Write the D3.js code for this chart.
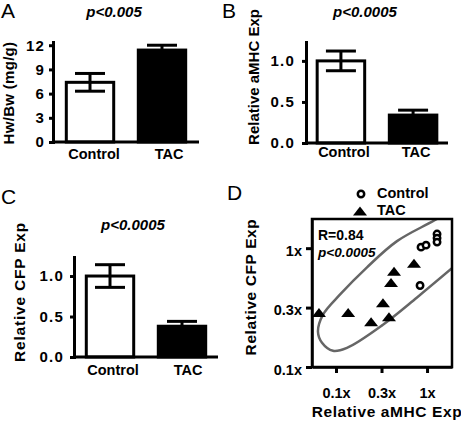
<!DOCTYPE html>
<html>
<head>
<meta charset="utf-8">
<script src="https://cdn.jsdelivr.net/npm/d3@7"></script>
<style>
  body { margin: 0; background: #fff; }
  svg { display: block; }
  text { font-family: "Liberation Sans", Arial, sans-serif; fill: #000; }
</style>
</head>
<body>
<svg id="chart" width="461" height="421"></svg>
<script>
// ---------- DATA ----------
const categories = ["Control", "TAC"];

// Panel A: heart weight / body weight
const hwbwMean = [7.4, 11.4];
const hwbwErr = [1.1, 0.6];
const hwbwTicks = [0, 3, 6, 9, 12];

// Panel B: relative aMHC expression
const amhcMean = [1.0, 0.34];
const amhcErr = [0.12, 0.06];
// Panel C: relative CFP expression
const cfpMean = [1.0, 0.38];
const cfpErr = [0.14, 0.06];
const relTicks = [0, 0.5, 1.0];

// Panel D: scatter (log-log)
const ctrlX = [0.838, 0.859, 0.975, 1.288, 1.288, 1.288];
const ctrlY = [0.485, 1.02, 1.06, 1.315, 1.216, 1.125];
const tacX = [0.065, 0.136, 0.243, 0.382, 0.328, 0.402, 0.434, 0.719];
const tacY = [0.287, 0.287, 0.240, 0.265, 0.348, 0.515, 0.638, 0.746];
const logTickValues = [0.1, 0.3162, 1];
const logTickLabels = ["0.1x", "0.3x", "1x"];
// confidence outline (data units)
const ellipseX = [2.62, 1.224, 0.468, 0.219, 0.111, 0.0720, 0.0634, 0.0702, 0.0927, 0.132, 0.328, 0.776, 1.93, 3.82, 5.58];
const ellipseY = [2.45, 1.727, 1.146, 0.690, 0.408, 0.276, 0.198, 0.160, 0.137, 0.145, 0.227, 0.385, 0.690, 1.08, 1.94];

const titles = ["p<0.005", "p<0.0005", "p<0.0005"];
const statR = "R=0.84";
const statP = "p<0.0005";

// ---------- DRAW ----------
const svg = d3.select("#chart");
const FONT = '"Liberation Sans", Arial, sans-serif';

function panelLetter(txt, x, y) {
  svg.append("text").attr("x", x).attr("y", y)
    .style("font-size", "21px").text(txt);
}

function barPanel(opt) {
  const g = svg.append("g");
  const y = d3.scaleLinear().domain(opt.domain).range([opt.bottom, opt.top]);
  const x = d3.scaleBand().domain(categories)
    .range([opt.left, opt.right]).paddingInner(0.3).paddingOuter(opt.po);

  // bars
  g.selectAll("rect.bar").data(opt.mean).join("rect")
    .attr("x", (d, i) => x(categories[i]) + 1.5)
    .attr("width", x.bandwidth() - 3)
    .attr("y", d => y(d))
    .attr("height", d => y(0) - y(d))
    .attr("fill", (d, i) => i === 0 ? "#fff" : "#000")
    .attr("stroke", "#000").attr("stroke-width", 3);

  // error bars
  const cap = 15;
  opt.mean.forEach((m, i) => {
    const cx = x(categories[i]) + x.bandwidth() / 2;
    const hi = y(m + opt.err[i]), lo = y(m - opt.err[i]);
    g.append("line").attr("x1", cx).attr("x2", cx).attr("y1", hi).attr("y2", lo)
      .attr("stroke", "#000").attr("stroke-width", 3);
    [hi, lo].forEach(v => g.append("line").attr("x1", cx - cap).attr("x2", cx + cap)
      .attr("y1", v).attr("y2", v).attr("stroke", "#000").attr("stroke-width", 3));
  });

  // x axis line
  g.append("line").attr("x1", opt.left).attr("x2", opt.right)
    .attr("y1", y(0)).attr("y2", y(0))
    .attr("stroke", "#000").attr("stroke-width", 3);

  // y axis
  const ax = g.append("g").attr("transform", `translate(${opt.left},0)`)
    .call(d3.axisLeft(y).tickValues(opt.ticks).tickSizeOuter(0).tickSizeInner(4)
      .tickPadding(opt.tp).tickFormat(opt.fmt));
  ax.select(".domain").attr("stroke-width", 3).attr("stroke-linecap", "square");
  ax.selectAll(".tick line").attr("stroke-width", 3);
  ax.selectAll(".tick text").style("font-family", FONT).style("font-size", "15px")
    .style("font-weight", "bold").style("letter-spacing", "1.2px").attr("fill", "#000");

  // category labels
  categories.forEach((c, i) => {
    g.append("text").attr("x", x(c) + x.bandwidth() / 2 + opt.ldx[i]).attr("y", opt.labelY)
      .attr("text-anchor", "middle").style("font-size", "14.5px").style("font-weight", "bold")
      .text(c);
  });

  // title
  g.append("text").attr("x", opt.titleX).attr("y", opt.titleY)
    .attr("text-anchor", "middle").style("font-size", "15px").style("font-weight", "bold")
    .style("font-style", "italic").text(opt.title);

  // y label
  g.append("text").attr("transform", `translate(${opt.ylx},${opt.yly}) rotate(-90)`)
    .attr("text-anchor", "middle").style("font-size", opt.ylfs).style("font-weight", "bold")
    .style("letter-spacing", opt.ylls).text(opt.ylabel);
}

panelLetter("A", 1, 18);
barPanel({
  mean: hwbwMean, err: hwbwErr, domain: [0, 12.4], ticks: hwbwTicks, fmt: d3.format("d"),
  left: 53, right: 199, top: 42, bottom: 142, po: 0.164, tp: 4,
  ldx: [4, 7], labelY: 159, title: titles[0], titleX: 114, titleY: 17,
  ylabel: "Hw/Bw (mg/g)", ylx: 14, yly: 93, ylfs: "15px", ylls: "0.3px"
});

panelLetter("B", 222, 18);
barPanel({
  mean: amhcMean, err: amhcErr, domain: [0, 1.23], ticks: relTicks, fmt: d3.format(".1f"),
  left: 306, right: 448, top: 42, bottom: 143, po: 0.134, tp: 7,
  ldx: [3, 3], labelY: 157, title: titles[1], titleX: 365, titleY: 17,
  ylabel: "Relative aMHC Exp", ylx: 259, yly: 77, ylfs: "15px", ylls: "0px"
});

panelLetter("C", 1, 204);
barPanel({
  mean: cfpMean, err: cfpErr, domain: [0, 1.235], ticks: relTicks, fmt: d3.format(".1f"),
  left: 74, right: 218, top: 257, bottom: 357, po: 0.15, tp: 6,
  ldx: [3, 6], labelY: 375, title: titles[2], titleX: 133, titleY: 230,
  ylabel: "Relative CFP Exp", ylx: 25, yly: 292, ylfs: "15.5px", ylls: "0.8px"
});

// ---------- Panel D ----------
panelLetter("D", 227, 200);
const dL = 312, dR = 452, dT = 219, dB = 367;
const xs = d3.scaleLog().domain([0.0545, 1.88]).range([dL, dR]);
const ys = d3.scaleLog().domain([0.1, 1.76]).range([dB, dT]);
const gd = svg.append("g");

gd.append("clipPath").attr("id", "boxclip").append("rect")
  .attr("x", dL).attr("y", dT).attr("width", dR - dL).attr("height", dB - dT);

const ell = ellipseX.map((v, i) => [xs(v), ys(ellipseY[i])]);
gd.append("path").attr("clip-path", "url(#boxclip)")
  .attr("d", d3.line().curve(d3.curveCatmullRomClosed.alpha(0.5))(ell))
  .attr("fill", "none").attr("stroke", "#666").attr("stroke-width", 2.5);

gd.append("rect").attr("x", dL).attr("y", dT).attr("width", dR - dL).attr("height", dB - dT)
  .attr("fill", "none").attr("stroke", "#000").attr("stroke-width", 2.5);

const axY = gd.append("g").attr("transform", `translate(${dL},0)`)
  .call(d3.axisLeft(ys).tickValues(logTickValues).tickSizeOuter(0).tickSizeInner(6)
    .tickPadding(4).tickFormat((d, i) => logTickLabels[i]));
const axX = gd.append("g").attr("transform", `translate(0,${dB})`)
  .call(d3.axisBottom(xs).tickValues(logTickValues).tickSizeOuter(0).tickSizeInner(6)
    .tickPadding(15).tickFormat((d, i) => logTickLabels[i]));
[axY, axX].forEach(a => {
  a.select(".domain").attr("stroke-width", 2.5);
  a.selectAll(".tick line").attr("stroke-width", 3);
  a.selectAll(".tick text").style("font-family", FONT).style("font-size", "14.5px")
    .style("font-weight", "bold").attr("fill", "#000");
});
axY.selectAll(".tick text").attr("dy", "0.5em");

function tri(cx, cy) {
  const w = 7, h = 4.5;
  return `M${cx - w},${cy + h}L${cx + w},${cy + h}L${cx},${cy - h}Z`;
}

gd.selectAll("path.tac").data(tacX).join("path")
  .attr("d", (d, i) => tri(xs(d), ys(tacY[i]))).attr("fill", "#000");
gd.selectAll("circle.ctrl").data(ctrlX).join("circle")
  .attr("cx", d => xs(d)).attr("cy", (d, i) => ys(ctrlY[i])).attr("r", 3.2)
  .attr("fill", "#fff").attr("stroke", "#000").attr("stroke-width", 2.5);

// stats
gd.append("text").attr("x", 318).attr("y", 240).style("font-size", "14px")
  .style("font-weight", "bold").text(statR);
gd.append("text").attr("x", 318).attr("y", 257).style("font-size", "13.5px")
  .style("font-weight", "bold").style("font-style", "italic").text(statP);

// legend
gd.append("circle").attr("cx", 361).attr("cy", 194).attr("r", 3.2)
  .attr("fill", "#fff").attr("stroke", "#000").attr("stroke-width", 2.5);
gd.append("path").attr("d", tri(360, 211)).attr("fill", "#000");
gd.append("text").attr("x", 377).attr("y", 198).style("font-size", "14.5px")
  .style("font-weight", "bold").text(categories[0]);
gd.append("text").attr("x", 377).attr("y", 215).style("font-size", "14.5px")
  .style("font-weight", "bold").text(categories[1]);

// axis titles
gd.append("text").attr("x", 387).attr("y", 417).attr("text-anchor", "middle")
  .style("font-size", "15.5px").style("font-weight", "bold").style("letter-spacing", "0.6px")
  .text("Relative aMHC Exp");
gd.append("text").attr("transform", "translate(256,287) rotate(-90)").attr("text-anchor", "middle")
  .style("font-size", "15.5px").style("font-weight", "bold").style("letter-spacing", "0.6px")
  .text("Relative CFP Exp");
</script>
</body>
</html>
